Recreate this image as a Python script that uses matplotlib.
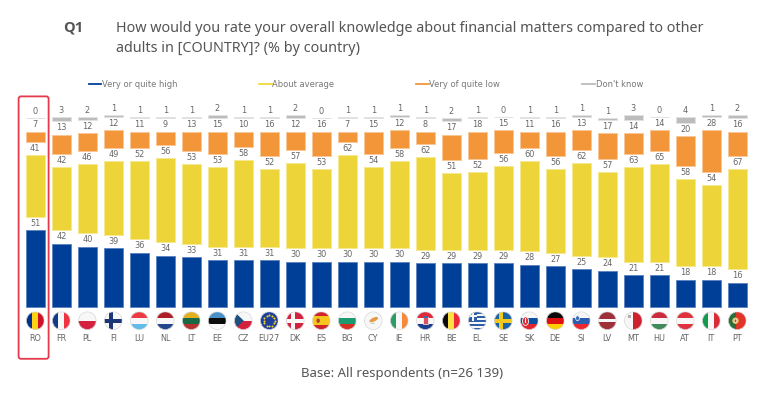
import numpy as np
import matplotlib
matplotlib.use("Agg")
import matplotlib.pyplot as plt
from matplotlib.patches import Circle, Rectangle, Polygon, Ellipse, FancyBboxPatch

countries = ["RO", "FR", "PL", "FI", "LU", "NL", "LT", "EE", "CZ", "EU27", "DK", "ES", "BG", "CY",
             "IE", "HR", "BE", "EL", "SE", "SK", "DE", "SI", "LV", "MT", "HU", "AT", "IT", "PT"]
high = [51, 42, 40, 39, 36, 34, 33, 31, 31, 31, 30, 30, 30, 30,
        30, 29, 29, 29, 29, 28, 27, 25, 24, 21, 21, 18, 18, 16]
average = [41, 42, 46, 49, 52, 56, 53, 53, 58, 52, 57, 53, 62, 54,
           58, 62, 51, 52, 56, 60, 56, 62, 57, 63, 65, 58, 54, 67]
low = [7, 13, 12, 12, 11, 9, 13, 15, 10, 16, 12, 16, 7, 15,
       12, 8, 17, 18, 15, 11, 16, 13, 17, 14, 14, 20, 28, 16]
dont_know = [0, 3, 2, 1, 1, 1, 1, 2, 1, 1, 2, 0, 1, 1,
             1, 1, 2, 1, 0, 1, 1, 1, 1, 3, 0, 4, 1, 2]
legend_names = ["Very or quite high", "About average", "Very of quite low", "Don't know"]

BLUE, YELLOW, ORANGE, GREY = "#003f98", "#edd539", "#f39539", "#bcbcbc"
EDGES = ["#5f86c0", "#f7e88f", "#f9c795", "#e2e2e2"]
TXT = "#666666"
W, H = 768, 394
X0, STEP = 35.3, 26.0   # px of first bar centre, px between bars
Y0, UNIT = 306.7, 1.5   # px of baseline, px per percent
GAP = 13.3 / UNIT       # white space between the segments

RED, WHITE = "#d4213d", "#f7f7f7"
stripes = {
    "RO": ("v", ["#00308a", "#fcd116", "#ce1126"], [1, 1, 1]),
    "FR": ("v", ["#12398c", WHITE, "#ef3340"], [1, 1, 1]),
    "PL": ("h", [WHITE, RED], [1, 1]),
    "LU": ("h", ["#ee3a43", WHITE, "#62bbe8"], [1, 1, 1]),
    "NL": ("h", ["#ae1c28", WHITE, "#21468b"], [1, 1, 1]),
    "LT": ("h", ["#e3b022", "#176b44", "#b5302f"], [1, 1, 1]),
    "EE": ("h", ["#4b8fc9", "#0a0a0a", WHITE], [1, 1, 1]),
    "BG": ("h", [WHITE, "#1b9a70", "#d62f22"], [1, 1, 1]),
    "IE": ("v", ["#2c9c66", WHITE, "#f58a3c"], [1, 1, 1]),
    "HR": ("h", ["#e0283a", WHITE, "#1a3e8f"], [1, 1, 1]),
    "BE": ("v", ["#0a0a0a", "#fae042", "#ed2939"], [1, 1, 1]),
    "SK": ("h", [WHITE, "#0b4ea2", "#e5252d"], [1, 1, 1]),
    "DE": ("h", ["#0a0a0a", "#dd1111", "#ffce00"], [1, 1, 1]),
    "SI": ("h", [WHITE, "#2a5fb0", "#ed2730"], [1, 1, 1]),
    "LV": ("h", ["#9e3039", WHITE, "#9e3039"], [2, 1, 2]),
    "MT": ("v", [WHITE, "#cf202f"], [1, 1]),
    "HU": ("h", ["#cd2a3e", WHITE, "#3f8a5a"], [1, 1, 1]),
    "AT": ("h", ["#e0313f", WHITE, "#e0313f"], [1, 1, 1]),
    "IT": ("v", ["#119a50", WHITE, "#d92b37"], [1, 1, 1]),
    "PT": ("v", ["#2b6e3c", "#e2352a"], [2, 3]),
    "ES": ("h", ["#d0232c", "#f8c51c", "#d0232c"], [1, 2, 1]),
    "CZ": ("h", [WHITE, "#d4213d"], [1, 1]),
    "DK": ("h", ["#d4213d"], [1]),
    "FI": ("h", [WHITE], [1]),
    "SE": ("h", ["#1a63a5"], [1]),
    "EU27": ("h", ["#1d3f9a"], [1]),
    "CY": ("h", [WHITE], [1]),
    "EL": ("h", ["#2f5ea8", WHITE] * 4 + ["#2f5ea8"], [1] * 9),
}


def draw_flag(fl, code):
    clip = Circle((0, 0), 1, transform=fl.transData)

    def add(p):
        fl.add_patch(p)
        p.set_clip_path(clip)

    orient, cols, weights = stripes[code]
    pos = -1.0
    total = sum(weights)
    for c, w in zip(cols, weights):
        size = 2.0 * w / total
        if orient == "v":
            add(Rectangle((pos, -1), size, 2, fc=c, ec="none"))
        else:
            add(Rectangle((-1, -pos - size), 2, size, fc=c, ec="none"))
        pos += size

    if code in ("DK", "FI", "SE"):
        c = {"DK": WHITE, "FI": "#1c3578", "SE": "#f5c81e"}[code]
        add(Rectangle((-0.5, -1), 0.42, 2, fc=c, ec="none"))
        add(Rectangle((-1, -0.21), 2, 0.42, fc=c, ec="none"))
    elif code == "CZ":
        add(Polygon([(-1, 1), (0.05, 0), (-1, -1)], fc="#1d4f80", ec="none"))
    elif code == "EU27":
        a = np.arange(12) * np.pi / 6
        fl.scatter(0.62 * np.cos(a), 0.62 * np.sin(a), s=2.2, c="#f6d31e", marker="o", linewidths=0, zorder=4)
    elif code == "CY":
        add(Ellipse((0.05, 0.12), 1.05, 0.42, angle=25, fc="#e49a4a", ec="none"))
        add(Ellipse((-0.05, -0.3), 0.5, 0.14, fc="#c9d3b8", ec="none"))
    elif code == "EL":
        add(Rectangle((-1, 0.0), 1.0, 1.0, fc="#2f5ea8", ec="none"))
        add(Rectangle((-0.6, 0), 0.2, 1, fc=WHITE, ec="none"))
        add(Rectangle((-1, 0.42), 1, 0.2, fc=WHITE, ec="none"))
    elif code == "ES":
        add(Ellipse((-0.35, 0), 0.38, 0.5, fc="#a8452a", ec="none"))
    elif code == "HR":
        add(Rectangle((-0.3, -0.4), 0.6, 0.85, fc="#d9535f", ec=WHITE, lw=0.5))
        add(Rectangle((-0.3, 0.3), 0.6, 0.2, fc="#3a6bb5", ec="none"))
    elif code == "SK":
        add(Ellipse((-0.42, -0.05), 0.68, 0.95, fc="#d9303a", ec=WHITE, lw=0.6))
        add(Rectangle((-0.48, -0.28), 0.12, 0.55, fc=WHITE, ec="none"))
    elif code == "SI":
        add(Ellipse((-0.42, 0.28), 0.42, 0.55, fc="#3a6db8", ec=WHITE, lw=0.5))
    elif code == "MT":
        add(Rectangle((-0.62, 0.32), 0.34, 0.34, fc="#b9aaa8", ec="none"))
    elif code == "PT":
        add(Circle((-0.2, 0), 0.36, fc="#e5c24c", ec="none"))
        add(Ellipse((-0.2, 0), 0.3, 0.38, fc="#c23b33", ec=WHITE, lw=0.5))

    fl.add_patch(Circle((0, 0), 0.98, fc="none", ec="#d8d8d8", lw=0.5, zorder=5))


plt.rcParams["font.family"] = "DejaVu Sans"
fig = plt.figure(figsize=(W / 100, H / 100), dpi=100)
ax = fig.add_axes([0, 0, 1, 1])
ax.set_xlim(-X0 / STEP, (W - X0) / STEP)
ax.set_ylim(-(H - Y0) / UNIT, Y0 / UNIT)
ax.axis("off")

x = np.arange(len(countries))
bottom = np.zeros(len(countries))
for vals, col, edge in zip([high, average, low, dont_know], [BLUE, YELLOW, ORANGE, GREY], EDGES):
    bars = ax.bar(x, vals, bottom=bottom, width=18.6 / STEP, color=col, edgecolor=edge, linewidth=0.7)
    ax.bar_label(bars, labels=[str(v) for v in vals], padding=1.6, fontsize=5.9, color=TXT)
    bottom = bottom + np.array(vals) + GAP

# country codes and flags under the bars
for i, code in enumerate(countries):
    px, py = ax.transData.transform((i, 0))
    fl = fig.add_axes([(px - 9.5) / W, (py - 14 - 9.5) / H, 19 / W, 19 / H])
    fl.set_xlim(-1.056, 1.056)
    fl.set_ylim(-1.056, 1.056)
    fl.axis("off")
    draw_flag(fl, code)
    fig.text(px / W, 1 - 338.7 / H, code, ha="center", va="center", fontsize=5.9, color=TXT)

# highlight box around first country
fig.add_artist(FancyBboxPatch((18.6 / W, 1 - 358.8 / H), 30 / W, 262.4 / H,
                              boxstyle="round,pad=0,rounding_size=0.003", transform=fig.transFigure,
                              fc="none", ec="#e53a4b", lw=1.3, mutation_aspect=2))

# legend
leg_x = [88.7, 259, 416, 582.3]
for lx, name, col in zip(leg_x, legend_names, [BLUE, "#f0d93a", ORANGE, GREY]):
    fig.add_artist(plt.Line2D([lx / W, (lx + 12.5) / W], [1 - 84.3 / H] * 2, color=col, lw=1.3))
    fig.text((lx + 13.3) / W, 1 - 84.3 / H, name, ha="left", va="center", fontsize=6.05, color="#777777")

# header
fig.text(63.5 / W, 1 - 28 / H, "Q1", fontfamily="Open Sans", fontweight="bold", fontsize=10.5,
         va="center", color="#555555")
fig.text(116.5 / W, 1 - 28 / H, "How would you rate your overall knowledge about financial matters compared to other",
         fontfamily="Noto Sans", fontsize=10.33, va="center", color="#555555")
fig.text(116.5 / W, 1 - 48.5 / H, "adults in [COUNTRY]? (% by country)",
         fontfamily="Noto Sans", fontsize=10.33, va="center", color="#555555")
fig.text(402.5 / W, 1 - 373 / H, "Base: All respondents (n=26 139)", fontfamily="Noto Sans", fontsize=9.5,
         ha="center", va="center", color="#555555")

fig.savefig("out.png", dpi=100)
